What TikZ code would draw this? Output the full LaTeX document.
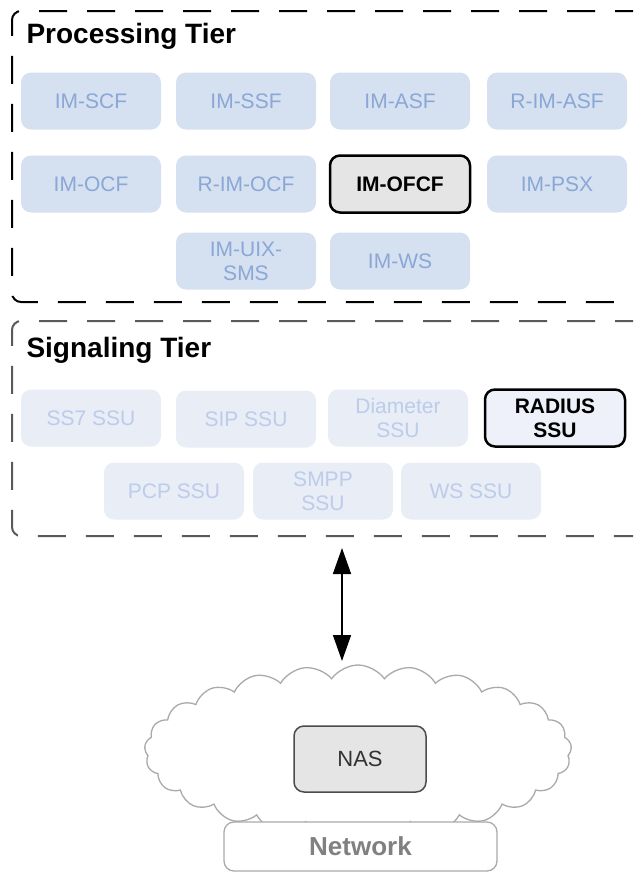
\documentclass[tikz,border=0pt]{standalone}
\usepackage{fontspec}
\setmainfont{Liberation Sans}
\usetikzlibrary{shapes.symbols,arrows.meta}

\definecolor{procfill}{RGB}{213,224,240}
\definecolor{proctext}{RGB}{138,167,214}
\definecolor{sigfill}{RGB}{232,237,246}
\definecolor{sigtext}{RGB}{188,204,234}
\definecolor{selfill}{RGB}{229,229,229}
\definecolor{radfill}{RGB}{238,241,249}
\definecolor{cloudline}{RGB}{170,170,170}
\definecolor{nettext}{RGB}{128,128,128}

\begin{document}
\begin{tikzpicture}[x=1pt,y=-1pt,
  tier/.style={draw, line width=2pt, dash pattern=on 28pt off 20pt, rounded corners=9pt, minimum width=640pt, inner sep=0pt},
  title/.style={anchor=base west, font=\bfseries\fontsize{28}{28}\selectfont},
  func/.style={fill=procfill, text=proctext, rounded corners=10pt, minimum width=140pt, minimum height=57pt, inner sep=0pt, align=center, font=\fontsize{21}{24}\selectfont},
  ssu/.style={func, fill=sigfill, text=sigtext},
  chosen/.style={draw=black, line width=2.5pt, text=black, font=\bfseries\fontsize{21}{24}\selectfont}]
\useasboundingbox (0,0) rectangle (633,873);
\clip (0,0) rectangle (633,873);

\def\ca{91}
\def\cb{246}
\def\cc{400}
\def\cd{557}

% processing tier
\node[tier, minimum height=291pt] (proctier) at (332,156.5) {};
\node[title] (proctitle) at (23,43) {Processing Tier};
\node[func] (scf) at (\ca,101) {IM-SCF};
\node[func] (ssf) at (\cb,101) {IM-SSF};
\node[func] (asf) at (\cc,101) {IM-ASF};
\node[func] (rasf) at (\cd,101) {R-IM-ASF};
\node[func] (ocf) at (\ca,184) {IM-OCF};
\node[func] (rocf) at (\cb,184) {R-IM-OCF};
\node[func, chosen, fill=selfill] (ofcf) at (\cc,184) {IM-OFCF};
\node[func] (psx) at (\cd,184) {IM-PSX};
\node[func] (uix) at (\cb,261) {IM-UIX-\\SMS};
\node[func] (ws) at (\cc,261) {IM-WS};

% signaling tier
\node[tier, draw=black!65, minimum height=215pt] (sigtier) at (332,428.5) {};
\node[title] (sigtitle) at (23,357) {Signaling Tier};
\node[ssu] (ss7) at (\ca,418) {SS7 SSU};
\node[ssu] (sip) at (\cb,419) {SIP SSU};
\node[ssu] (diam) at (398,418) {Diameter\\SSU};
\node[ssu, chosen, fill=radfill] (radius) at (555,418) {RADIUS\\SSU};
\node[ssu] (pcp) at (174,491) {PCP SSU};
\node[ssu] (smpp) at (323,491) {SMPP\\SSU};
\node[ssu] (wsssu) at (471,491) {WS SSU};

% network
\node[cloud, cloud puffs=25, cloud puff arc=110, cloud ignores aspect, draw=cloudline, line width=1.3pt, fill=white, minimum width=427pt, minimum height=172pt] (net) at (358,751) {};
\node[draw=black!70, line width=1.5pt, fill=selfill, rounded corners=10pt, minimum width=132pt, minimum height=66pt, font=\fontsize{22}{22}\selectfont, text=black!80] (nas) at (360,759) {NAS};
\node[draw=cloudline, line width=1.3pt, fill=white, rounded corners=10pt, minimum width=273pt, minimum height=49pt, font=\bfseries\fontsize{26}{26}\selectfont, text=nettext] (netlabel) at (360.5,846.5) {Network};

\coordinate (linktop) at (342,548);
\coordinate (linkbot) at (342,661);
\draw[line width=1.5pt, {Triangle[width=18pt,length=26pt]}-{Triangle[width=18pt,length=26pt]}] (linktop) -- (linkbot);
\end{tikzpicture}
\end{document}
